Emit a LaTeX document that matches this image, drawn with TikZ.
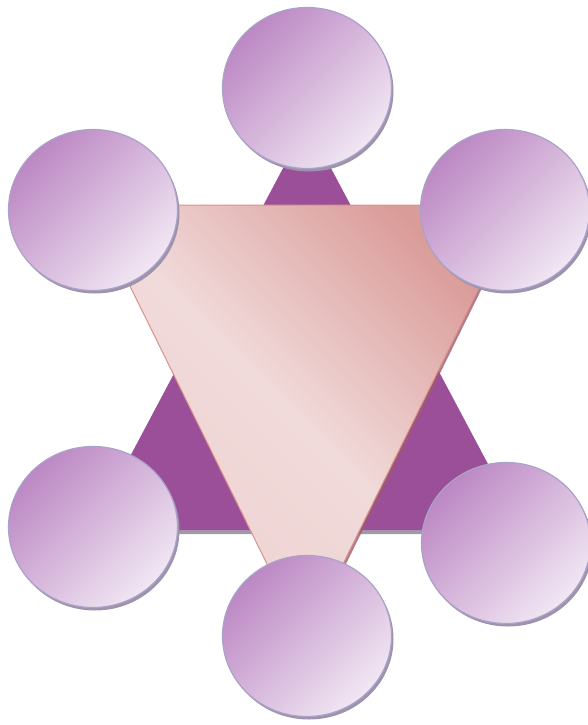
\documentclass[tikz,border=0pt]{standalone}
\usetikzlibrary{shapes.geometric, shadows}

\definecolor{orbdark}{HTML}{BC88C4}
\definecolor{orblight}{HTML}{F1E7F3}
\definecolor{orbline}{HTML}{A9A2C9}
\definecolor{orbshade}{HTML}{9E92AC}
\definecolor{plum}{HTML}{9B4F98}
\definecolor{plumshade}{HTML}{A09AA8}
\definecolor{blushdark}{HTML}{DA9C99}
\definecolor{blushmid}{HTML}{F1DADA}
\definecolor{blushlight}{HTML}{EED2D1}
\definecolor{blushline}{HTML}{D8928C}
\definecolor{blushshade}{HTML}{A05A6C}

\begin{document}
\begin{tikzpicture}[
    x=1pt, y=-1pt,
    orb/.style={ellipse, draw=orbline, line width=1.2pt, minimum width=169pt, minimum height=161pt,
        top color=orbdark, bottom color=orblight, shading angle=45,
        drop shadow={shadow xshift=2pt, shadow yshift=-3pt, fill=orbshade, opacity=1}},
    plumtri/.style={fill=plum, drop shadow={shadow xshift=0pt, shadow yshift=-4pt, fill=plumshade, opacity=1}},
    blushtri/.style={draw=blushline, line width=1pt, top color=blushdark, bottom color=blushlight, middle color=blushmid,
        shading angle=-45, drop shadow={shadow xshift=3pt, shadow yshift=0pt, fill=blushshade, opacity=0.8}}
]
    \useasboundingbox (0,0) rectangle (588,725);

    % upward triangle
    \coordinate (pa) at (307,123);
    \coordinate (pb) at (523,530);
    \coordinate (pc) at (91,530);
    \path[plumtri] (pa) -- (pb) -- (pc) -- cycle;

    % downward triangle
    \coordinate (ba) at (90,205);
    \coordinate (bb) at (520,205);
    \coordinate (bc) at (305,641);
    \path[blushtri] (ba) -- (bb) -- (bc) -- cycle;

    % circles
    \node[orb] (orbtop) at (307,88) {};
    \node[orb] (orbnw) at (93,210) {};
    \node[orb] (orbne) at (505,210) {};
    \node[orb] (orbsw) at (93,527) {};
    \node[orb] (orbse) at (506,543) {};
    \node[orb] (orbbot) at (307,636) {};
\end{tikzpicture}
\end{document}
